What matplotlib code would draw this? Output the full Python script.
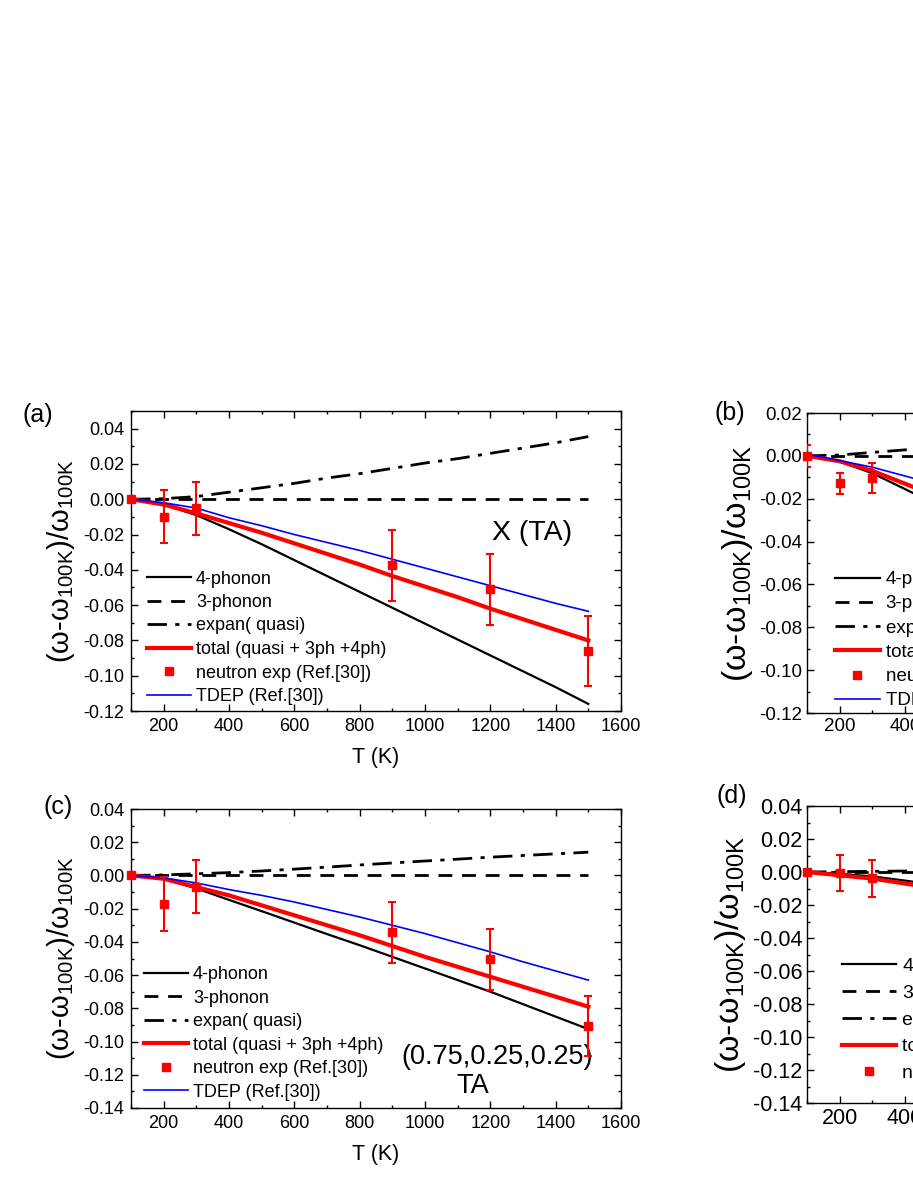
import numpy as np
import matplotlib
matplotlib.use('Agg')
import matplotlib.pyplot as plt

plt.rcParams['font.family'] = ['Liberation Sans', 'DejaVu Sans']
plt.rcParams['mathtext.fontset'] = 'custom'
plt.rcParams['mathtext.rm'] = 'Liberation Sans'
plt.rcParams['mathtext.it'] = 'Liberation Sans'

# temperature grid (K)
T = [100, 200, 300, 400, 500, 600, 700, 800, 900, 1000, 1100, 1200, 1300, 1400, 1500]

# (a) X (TA)
a_4ph = [0, -0.003, -0.009, -0.017, -0.0255, -0.0345, -0.0435, -0.0525, -0.0615, -0.0705, -0.0795, -0.0885, -0.0975, -0.1065, -0.116]
a_3ph = [0] * 15
a_expan = [0, 0.0003, 0.0015, 0.004, 0.0065, 0.009, 0.012, 0.0145, 0.0175, 0.0205, 0.023, 0.026, 0.029, 0.032, 0.0355]
a_total = [0, -0.003, -0.008, -0.0135, -0.019, -0.025, -0.031, -0.037, -0.0435, -0.0495, -0.0555, -0.062, -0.068, -0.074, -0.080]
a_tdep = [0, -0.002, -0.005, -0.0105, -0.015, -0.020, -0.0245, -0.029, -0.034, -0.039, -0.044, -0.049, -0.054, -0.059, -0.0635]
a_expT = [100, 200, 300, 900, 1200, 1500]
a_exp = [0, -0.010, -0.005, -0.0375, -0.051, -0.086]
a_err = [0, 0.015, 0.015, 0.020, 0.020, 0.020]

# (b)
b_T = [100, 200, 300, 400, 500, 600]
b_4ph = [0, -0.0027, -0.0081, -0.0155, -0.023, -0.031]
b_3ph = [0, 0, 0, 0, 0, 0]
b_expan = [0, 0.0004, 0.0016, 0.0028, 0.004, 0.0052]
b_total = [0, -0.0025, -0.007, -0.013, -0.019, -0.025]
b_tdep = [0.0008, -0.0022, -0.0053, -0.0094, -0.0135, -0.018]
b_expT = [100, 200, 300]
b_exp = [0, -0.0128, -0.0105]
b_err = [0.005, 0.005, 0.007]

# (c) (0.75,0.25,0.25) TA
c_4ph = [0, -0.002, -0.0078, -0.0147, -0.0215, -0.0284, -0.0353, -0.042, -0.049, -0.056, -0.063, -0.070, -0.0775, -0.085, -0.0925]
c_3ph = [0] * 15
c_expan = [0, 0.0003, 0.001, 0.0017, 0.0027, 0.0038, 0.005, 0.0063, 0.0075, 0.0087, 0.0098, 0.011, 0.012, 0.013, 0.014]
c_total = [0, -0.002, -0.007, -0.012, -0.018, -0.024, -0.030, -0.036, -0.0425, -0.049, -0.055, -0.061, -0.067, -0.073, -0.079]
c_tdep = [0, -0.0015, -0.0045, -0.0085, -0.012, -0.016, -0.0205, -0.025, -0.030, -0.035, -0.0405, -0.046, -0.052, -0.0575, -0.063]
c_expT = [100, 200, 300, 900, 1200, 1500]
c_exp = [0, -0.0172, -0.0068, -0.0342, -0.0505, -0.0908]
c_err = [0, 0.016, 0.016, 0.0185, 0.0185, 0.018]

# (d)
d_T = [100, 200, 300, 400, 500]
d_4ph = [0, -0.001, -0.0027, -0.0052, -0.008]
d_3ph = [0, 0, 0, 0, 0]
d_expan = [0, 0.0002, 0.0004, 0.0006, 0.0008]
d_total = [0, -0.002, -0.004, -0.007, -0.010]
d_expT = [100, 200, 300]
d_exp = [0, -0.0005, -0.0039]
d_err = [0, 0.011, 0.011]

labels = ['4-phonon', '3-phonon', 'expan( quasi)', 'total (quasi + 3ph +4ph)',
          'neutron exp (Ref.[30])', 'TDEP (Ref.[30])']
ylab = r'(ω-ω$_{\mathregular{100K}}$)/ω$_{\mathregular{100K}}$'

W, H = 913, 1182
fig = plt.figure(figsize=(W / 100, H / 100), dpi=100)


def px_axes(x0, y0, x1, y1):
    return fig.add_axes([x0 / W, 1 - y1 / H, (x1 - x0) / W, (y1 - y0) / H])


def panel(ax, t, s4, s3, se, stot, tdep, et, ev, ee, ylim, fs, pad, leg_xy, lspace, hlen, lfs):
    h4, = ax.plot(t, s4, color='black', lw=1.6)
    h3, = ax.plot(t, s3, color='black', lw=2, ls=(0, (5, 3.5)))
    he, = ax.plot(t, se, color='black', lw=2, ls=(0, (7, 3, 1.5, 3)))
    htot, = ax.plot(t, stot, color='red', lw=3)
    hb = None
    if tdep is not None:
        hb, = ax.plot(t, tdep, color='blue', lw=1.2)
    ax.errorbar(et, ev, yerr=ee, fmt='none', ecolor='red', elinewidth=1.5, capsize=3, capthick=1.5, zorder=5)
    hx, = ax.plot(et, ev, 's', color='red', ms=5.5, ls='none', clip_on=False, zorder=6)
    handles = [h4, h3, he, htot, hx] + ([hb] if hb is not None else [])
    ax.legend(handles, labels[:len(handles)], loc='lower left', bbox_to_anchor=leg_xy,
              frameon=False, borderpad=0, borderaxespad=0, fontsize=lfs,
              handlelength=hlen, handletextpad=0.3, labelspacing=lspace)
    ax.set_xlim(100, 1600)
    ax.set_ylim(*ylim)
    ax.set_xticks(np.arange(200, 1601, 200))
    ax.set_xticks(np.arange(100, 1601, 100), minor=True)
    ax.set_yticks(np.arange(ylim[0], ylim[1] + 0.001, 0.02))
    ax.set_yticks(np.arange(ylim[0], ylim[1] + 0.001, 0.01), minor=True)
    ax.yaxis.set_major_formatter(matplotlib.ticker.FormatStrFormatter('%.2f'))
    ax.tick_params(which='both', direction='in', top=True, right=True, labelsize=fs, width=1)
    ax.tick_params(which='major', length=5, pad=pad)
    ax.tick_params(which='minor', length=2.5)
    for sp in ax.spines.values():
        sp.set_linewidth(1)
    ax.set_xlabel('T (K)', fontsize=15.5, labelpad=9)


ax_a = px_axes(131, 411, 621, 711)
panel(ax_a, T, a_4ph, a_3ph, a_expan, a_total, a_tdep, a_expT, a_exp, a_err,
      (-0.12, 0.05), 13, 5, (0.033, 0.02), 0.36, 2.4, 13)
ax_a.set_yticks(np.arange(-0.12, 0.041, 0.02))
ax_a.set_ylabel(ylab, fontsize=21)
ax_a.yaxis.set_label_coords(-0.11, 0.5)
ax_a.text(1327, -0.0194, 'X (TA)', fontsize=20.5, ha='center', va='center')

ax_b = px_axes(807, 413, 1297, 713)
panel(ax_b, b_T, b_4ph, b_3ph, b_expan, b_total, b_tdep, b_expT, b_exp, b_err,
      (-0.12, 0.02), 13.5, 3.5, (0.057, 0.012), 0.38, 2.4, 13.5)
ax_b.set_ylabel(ylab, fontsize=24.5)
ax_b.yaxis.set_label_coords(-0.106, 0.5)

ax_c = px_axes(131, 809, 621, 1108)
panel(ax_c, T, c_4ph, c_3ph, c_expan, c_total, c_tdep, c_expT, c_exp, c_err,
      (-0.14, 0.04), 13, 5, (0.027, 0.025), 0.36, 2.4, 13)
ax_c.set_ylabel(ylab, fontsize=21)
ax_c.yaxis.set_label_coords(-0.11, 0.5)
ax_c.text(1220, -0.109, '(0.75,0.25,0.25)', fontsize=19.5, ha='center', va='center')
ax_c.text(1147, -0.127, 'TA', fontsize=19.5, ha='center', va='center')

ax_d = px_axes(807, 806, 1297, 1103)
panel(ax_d, d_T, d_4ph, d_3ph, d_expan, d_total, None, d_expT, d_exp, d_err,
      (-0.14, 0.04), 15.5, 3.5, (0.071, 0.07), 0.47, 2.8, 14)
ax_d.set_ylabel(ylab, fontsize=24.5)
ax_d.yaxis.set_label_coords(-0.12, 0.5)

for lab, x, y in [('(a)', 38, 415), ('(b)', 730, 413), ('(c)', 58, 807), ('(d)', 732, 796)]:
    fig.text(x / W, 1 - y / H, lab, fontsize=18, ha='center', va='center')

fig.savefig('out.png', dpi=100)
